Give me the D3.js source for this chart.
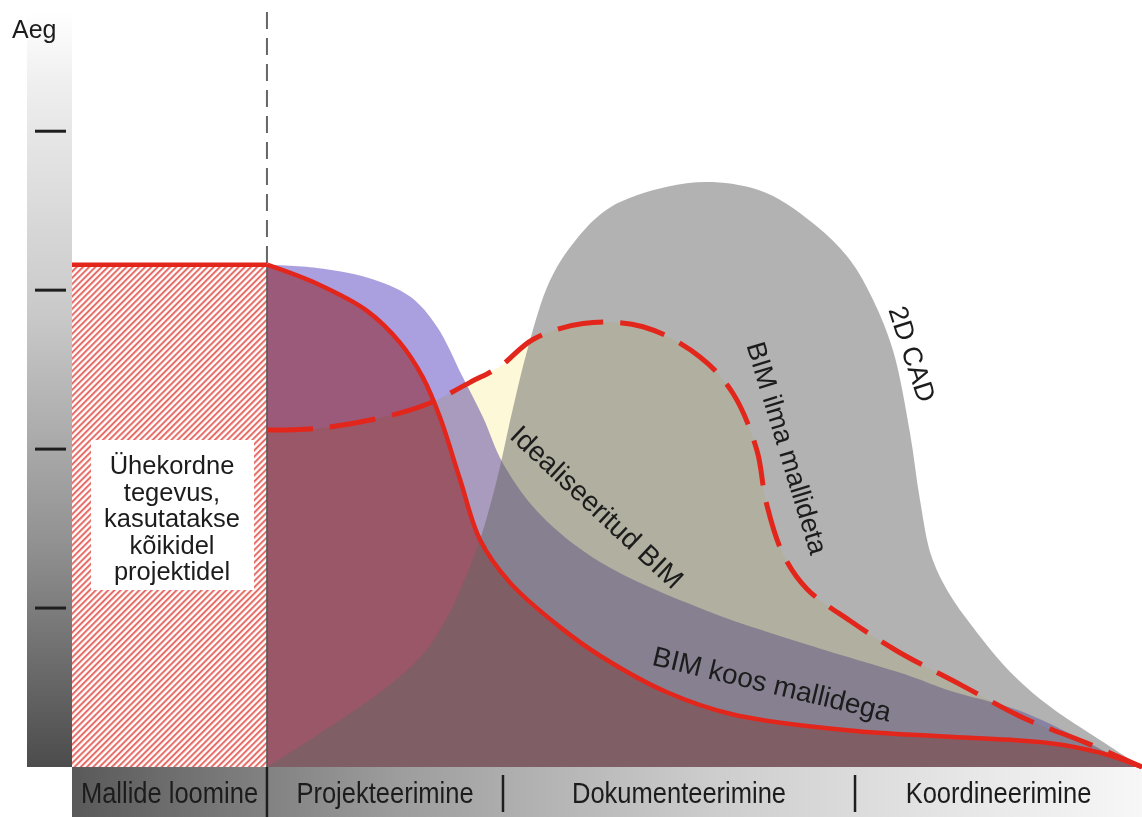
<!DOCTYPE html>
<html>
<head>
<meta charset="utf-8">
<script src="https://cdn.jsdelivr.net/npm/d3@7"></script>
<style>
  body { margin: 0; background: #fff; }
  svg { display: block; }
  text { font-family: "Liberation Sans", Arial, sans-serif; fill: #1c1c1c; }
</style>
</head>
<body>
<svg id="chart"></svg>
<script>
// tööetapid (x-telg) ja aja skaala
const phases = ["Mallide loomine", "Projekteerimine", "Dokumenteerimine", "Koordineerimine"];
const phaseEdges = [0, 18.22, 40.28, 73.18, 100];
const timeTicks = [1, 2, 3, 4];

// mallide loomine (ühekordne tase)
const templateRun = [[0, 3.16], [18.22, 3.16]];

// BIM koos mallidega
const bimWithTemplates = [
  [18.22, 3.16], [22.9, 3.04], [27.57, 2.87], [30.65, 2.67], [32.8, 2.45], [34.39, 2.2],
  [36.26, 1.81], [38.13, 1.43], [40.93, 1.16], [45.61, 0.88], [49.35, 0.7], [55.61, 0.47],
  [61.78, 0.33], [72.71, 0.23], [82.06, 0.19], [91.4, 0.15], [96.07, 0.09], [100, 0]
];

// Idealiseeritud BIM
const idealBim = [
  [18.22, 3.16], [22.9, 3.14], [27.57, 3.08], [31.59, 2.96], [34.11, 2.77], [36.54, 2.45],
  [38.41, 2.2], [40.28, 1.91], [43.74, 1.59], [49.35, 1.29], [59.07, 0.99], [68.69, 0.77],
  [78.41, 0.57], [82.06, 0.48], [88.32, 0.36], [94.49, 0.17], [97.66, 0.06], [100, 0]
];

// BIM ilma mallideta
const bimNoTemplates = [
  [18.22, 2.12], [22.9, 2.13], [29.07, 2.2], [33.46, 2.29], [37.2, 2.42], [40.0, 2.52],
  [43.08, 2.69], [47.76, 2.79], [53.36, 2.77], [58.69, 2.58], [61.78, 2.35], [64.02, 1.99],
  [64.86, 1.67], [66.45, 1.34], [68.69, 1.12], [72.71, 0.92], [77.1, 0.73], [82.99, 0.52],
  [88.88, 0.31], [94.86, 0.15], [100, 0]
];

// 2D CAD
const cad2d = [
  [18.22, 0], [22.24, 0.17], [26.92, 0.38], [30.65, 0.57], [33.18, 0.74], [35.05, 0.94],
  [36.26, 1.11], [38.13, 1.43], [39.72, 1.81], [41.12, 2.23], [42.62, 2.64], [44.67, 3.06],
  [47.01, 3.31], [50.28, 3.52], [55.61, 3.65], [59.91, 3.68], [64.95, 3.61], [69.63, 3.4],
  [72.71, 3.19], [74.86, 2.94], [76.73, 2.62], [78.32, 2.1], [79.25, 1.68], [80.3, 1.33],
  [81.9, 1.1], [84.2, 0.88], [87.66, 0.6], [91.4, 0.38], [96.07, 0.17], [100, 0]
];

const oneTimeText = ["Ühekordne", "tegevus,", "kasutatakse", "kõikidel", "projektidel"];

function drawChart() {
  const width = 1142;
  const height = 817;

  const x = d3.scaleLinear().domain([0, 100]).range([72, 1142]);
  const y = d3.scaleLinear().domain([0, 4.75]).range([767, 12]);

  const svg = d3.select("#chart")
    .attr("width", width)
    .attr("height", height);

  const defs = svg.append("defs");

  const yGrad = defs.append("linearGradient")
    .attr("id", "yBar").attr("x1", 0).attr("y1", 0).attr("x2", 0).attr("y2", 1);
  [[0, "#ffffff"], [0.1, "#eeeeee"], [0.4, "#c9c9c9"], [0.7, "#929292"], [1, "#4c4c4c"]]
    .forEach(s => yGrad.append("stop").attr("offset", s[0]).attr("stop-color", s[1]));

  const xGrad = defs.append("linearGradient")
    .attr("id", "xBar").attr("x1", 0).attr("y1", 0).attr("x2", 1).attr("y2", 0);
  [[0, "#595959"], [0.3, "#9c9c9c"], [0.6, "#cdcdcd"], [0.85, "#e8e8e8"], [1, "#f7f7f7"]]
    .forEach(s => xGrad.append("stop").attr("offset", s[0]).attr("stop-color", s[1]));

  const hatch = defs.append("pattern")
    .attr("id", "hatch")
    .attr("patternUnits", "userSpaceOnUse")
    .attr("width", 4.4).attr("height", 4.4)
    .attr("patternTransform", "rotate(45)");
  hatch.append("rect").attr("width", 4.4).attr("height", 4.4).attr("fill", "#fff");
  hatch.append("line")
    .attr("x1", 1.1).attr("x2", 1.1).attr("y1", 0).attr("y2", 4.4)
    .attr("stroke", "#e4625c").attr("stroke-width", 1.9);

  svg.append("rect").attr("width", width).attr("height", height).attr("fill", "#fff");

  // aja telg
  svg.append("rect")
    .attr("x", 27).attr("y", y(4.75))
    .attr("width", 45).attr("height", y(0) - y(4.75))
    .attr("fill", "url(#yBar)");

  svg.selectAll(".tick")
    .data(timeTicks)
    .enter()
    .append("line")
    .attr("x1", 35).attr("x2", 66)
    .attr("y1", d => y(d)).attr("y2", d => y(d))
    .attr("stroke", "#1e1e1e").attr("stroke-width", 3);

  svg.append("text")
    .attr("x", 12).attr("y", 38)
    .attr("font-size", 25)
    .text("Aeg");

  // etappide riba
  svg.append("rect")
    .attr("x", x(0)).attr("y", y(0))
    .attr("width", x(100) - x(0)).attr("height", height - y(0))
    .attr("fill", "url(#xBar)");

  svg.selectAll(".sep")
    .data(phaseEdges.slice(1, 4))
    .enter()
    .append("line")
    .attr("x1", d => x(d)).attr("x2", d => x(d))
    .attr("y1", (d, i) => i === 0 ? y(0) : y(0) + 8)
    .attr("y2", (d, i) => i === 0 ? height : height - 5)
    .attr("stroke", "#1e1e1e").attr("stroke-width", 2.5);

  svg.selectAll(".phase")
    .data(phases)
    .enter()
    .append("text")
    .attr("transform", (d, i) =>
      `translate(${(x(phaseEdges[i]) + x(phaseEdges[i + 1])) / 2},803) scale(0.88,1)`)
    .attr("text-anchor", "middle")
    .attr("font-size", 29)
    .text(d => d);

  // mallide loomine
  svg.append("rect")
    .attr("x", x(0)).attr("y", y(templateRun[0][1]))
    .attr("width", x(phaseEdges[1]) - x(0))
    .attr("height", y(0) - y(templateRun[0][1]))
    .attr("fill", "url(#hatch)");

  svg.append("rect")
    .attr("x", 91).attr("y", 440)
    .attr("width", 163).attr("height", 150)
    .attr("fill", "#fff");

  svg.selectAll(".once")
    .data(oneTimeText)
    .enter()
    .append("text")
    .attr("x", 172)
    .attr("y", (d, i) => 474 + i * 26.5)
    .attr("text-anchor", "middle")
    .attr("font-size", 25.5)
    .text(d => d);

  // alad
  const curve = d3.curveCatmullRom.alpha(0.5);

  const area = d3.area()
    .x(d => x(d[0]))
    .y0(y(0))
    .y1(d => y(d[1]))
    .curve(curve);

  const line = d3.line()
    .x(d => x(d[0]))
    .y(d => y(d[1]))
    .curve(curve);

  svg.append("path")
    .datum(bimNoTemplates)
    .attr("d", area)
    .attr("fill", "#fdf8d8")
    .style("mix-blend-mode", "multiply");

  svg.append("path")
    .datum(idealBim)
    .attr("d", area)
    .attr("fill", "#aaa0e0")
    .style("mix-blend-mode", "multiply");

  svg.append("path")
    .datum(bimWithTemplates)
    .attr("d", area)
    .attr("fill", "#e88f8b")
    .style("mix-blend-mode", "multiply");

  svg.append("path")
    .datum(cad2d)
    .attr("d", area)
    .attr("fill", "#666")
    .attr("fill-opacity", 0.5);

  // eraldusjoon
  svg.append("line")
    .attr("x1", x(phaseEdges[1])).attr("x2", x(phaseEdges[1]))
    .attr("y1", y(4.75)).attr("y2", y(templateRun[0][1]))
    .attr("stroke", "#666").attr("stroke-width", 2)
    .attr("stroke-dasharray", "17,9");

  svg.append("line")
    .attr("x1", x(phaseEdges[1])).attr("x2", x(phaseEdges[1]))
    .attr("y1", y(templateRun[0][1])).attr("y2", y(0))
    .attr("stroke", "#555").attr("stroke-width", 1.5);

  // jooned
  svg.append("path")
    .datum(templateRun)
    .attr("d", line)
    .attr("fill", "none")
    .attr("stroke", "#e3261c").attr("stroke-width", 4.5);

  svg.append("path")
    .datum(bimWithTemplates)
    .attr("d", line)
    .attr("fill", "none")
    .attr("stroke", "#e3261c").attr("stroke-width", 4.5);

  svg.append("path")
    .datum(bimNoTemplates)
    .attr("d", line)
    .attr("fill", "none")
    .attr("stroke", "#e3261c").attr("stroke-width", 5)
    .attr("stroke-dasharray", "46,17");

  // sildid
  const labels = [
    { text: "Idealiseeritud BIM", px: 597, py: 507, angle: 43, size: 28 },
    { text: "BIM ilma mallideta", px: 787, py: 448, angle: 73, size: 27 },
    { text: "2D CAD", px: 912, py: 354, angle: 72, size: 27 },
    { text: "BIM koos mallidega", px: 772, py: 684, angle: 13.5, size: 28 }
  ];

  svg.selectAll(".label")
    .data(labels)
    .enter()
    .append("text")
    .attr("transform", d => `translate(${d.px},${d.py}) rotate(${d.angle})`)
    .attr("text-anchor", "middle")
    .attr("dominant-baseline", "central")
    .attr("font-size", d => d.size)
    .text(d => d.text);
}

drawChart()
</script>
</body>
</html>
